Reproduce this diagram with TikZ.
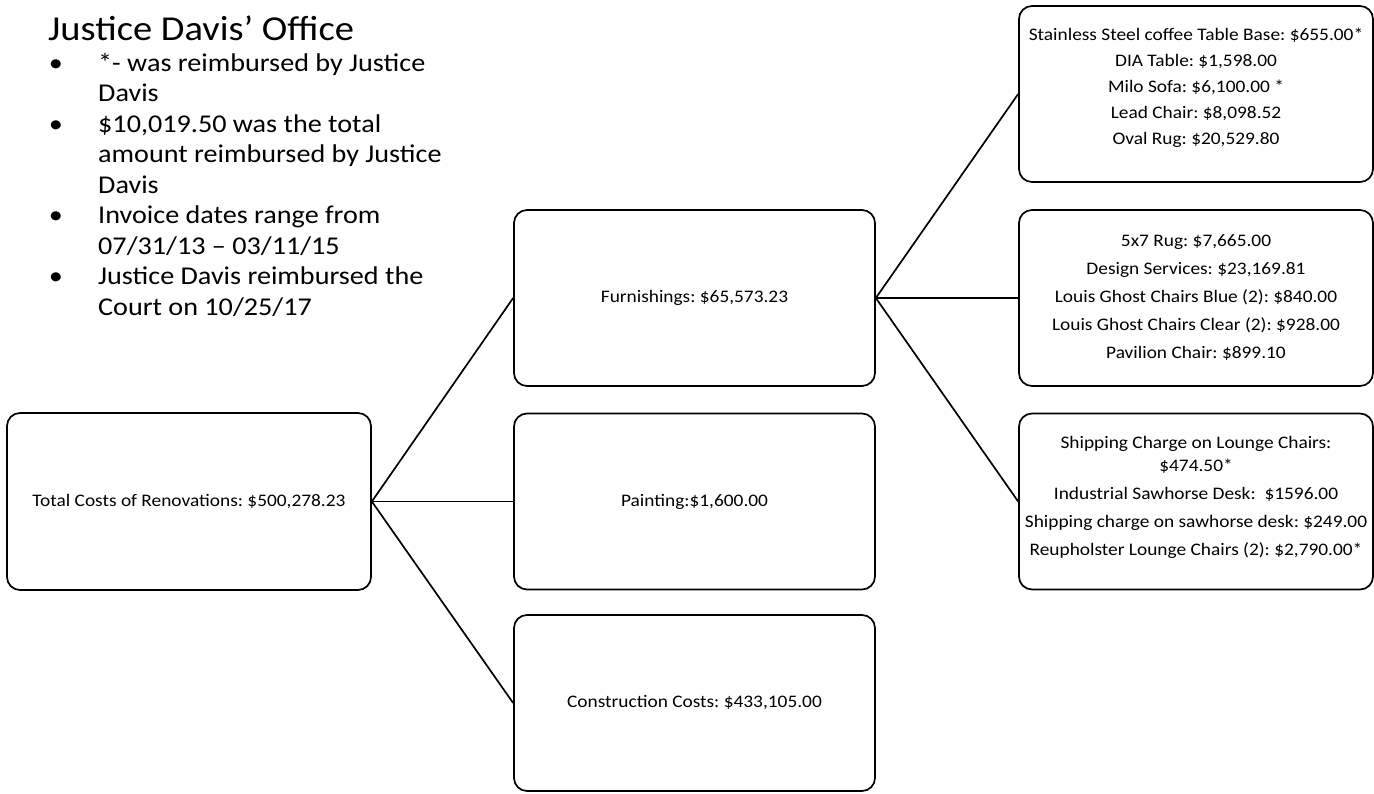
\documentclass[tikz,border=0pt]{standalone}
\usepackage{fontspec}
\setmainfont[FakeStretch=1.1]{Carlito}
\newcommand\boxfont{\fontsize{17.6}{21}\selectfont}
\newcommand\bulfont{\fontsize{25.6}{30}\selectfont}
\newcommand\ttlfont{\fontsize{35}{40}\selectfont}
\frenchspacing
\begin{document}
\begin{tikzpicture}[x=1pt,y=-1pt,
  box/.style={draw, line width=1.7pt, rounded corners=13pt, align=center, inner sep=0pt, font=\boxfont},
  midbox/.style={box, minimum width=361pt, minimum height=176pt},
  rbox/.style={box, minimum width=354pt, minimum height=176pt},
  rtxt/.style={align=center, inner sep=0pt},
  conn/.style={line width=1.7pt},
  bul/.style={anchor=base west, inner sep=0pt, font=\bulfont},
  bdot/.style={anchor=base, inner sep=0pt, font=\bulfont}]
\useasboundingbox (0,0) rectangle (1374,793);

% left text
\node[anchor=base west, inner sep=0pt, font=\ttlfont] (title) at (48,40) {Justice Davis’ Office};
\node[bdot] (d1) at (56,71) {•};
\node[bul] (l1) at (98,71) {*- was reimbursed by Justice};
\node[bul] (l2) at (98,101.5) {Davis};
\node[bdot] (d2) at (56,132) {•};
\node[bul] (l3) at (98,132) {\$10,019.50 was the total};
\node[bul] (l4) at (98,162.5) {amount reimbursed by Justice};
\node[bul] (l5) at (98,193) {Davis};
\node[bdot] (d3) at (56,223.5) {•};
\node[bul] (l6) at (98,223.5) {Invoice dates range from};
\node[bul] (l7) at (98,254) {07/31/13 – 03/11/15};
\node[bdot] (d4) at (56,284.5) {•};
\node[bul] (l8) at (98,284.5) {Justice Davis reimbursed the};
\node[bul] (l9) at (98,315) {Court on 10/25/17};

% root
\node[box, minimum width=364pt, minimum height=177pt] (total) at (189,501.5) {Total Costs of Renovations: \$500,278.23};

% middle column
\node[midbox] (furn) at (694.5,298) {Furnishings: \$65,573.23};
\node[midbox] (paint) at (694.5,501.5) {Painting:\$1,600.00};
\node[midbox] (constr) at (694.5,703) {Construction Costs: \$433,105.00};

% right column
\node[rbox] (r1) at (1196,94) {};
\node[rtxt, font=\fontsize{17.6}{26}\selectfont] (r1t) at (1196,88) {Stainless Steel coffee Table Base: \$655.00*\\DIA Table: \$1,598.00\\Milo Sofa: \$6,100.00 *\\Lead Chair: \$8,098.52\\Oval Rug: \$20,529.80};
\node[rbox] (r2) at (1196,298) {};
\node[rtxt, font=\fontsize{17.6}{28}\selectfont] (r2t) at (1196,298) {5x7 Rug: \$7,665.00\\Design Services: \$23,169.81\\Louis Ghost Chairs Blue (2): \$840.00\\Louis Ghost Chairs Clear (2): \$928.00\\Pavilion Chair: \$899.10};
\node[rbox] (r3) at (1196,501.5) {};
\node[rtxt, font=\fontsize{17.6}{28}\selectfont] (r3t) at (1196,497) {Shipping Charge on Lounge Chairs:\\[-5pt]\$474.50*\\Industrial Sawhorse Desk:\ \ \$1596.00\\Shipping charge on sawhorse desk: \$249.00\\Reupholster Lounge Chairs (2): \$2,790.00*};

% connectors
\draw[conn] (total.east) -- (furn.west);
\draw[conn] (total.east) -- (paint.west);
\draw[conn] (total.east) -- (constr.west);
\draw[conn] (furn.east) -- (r1.west);
\draw[conn] (furn.east) -- (r2.west);
\draw[conn] (furn.east) -- (r3.west);
\end{tikzpicture}
\end{document}
